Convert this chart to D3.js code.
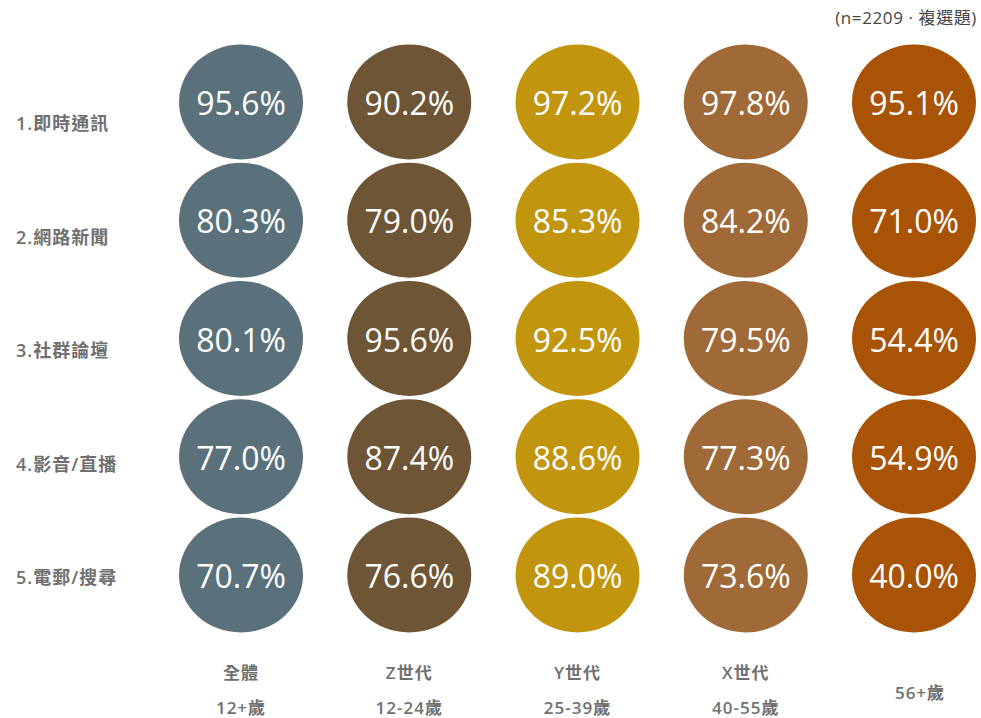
<!DOCTYPE html>
<html>
<head>
<meta charset="utf-8">
<script src="https://cdn.jsdelivr.net/npm/d3@7"></script>
<style>
  body { margin: 0; background: #fff; }
  text { font-family: "Open Sans", "Noto Sans CJK TC", sans-serif; }
</style>
</head>
<body>
<div id="viz"></div>
<script>
// data
var rowLabels = ["1.即時通訊", "2.網路新聞", "3.社群論壇", "4.影音/直播", "5.電郵/搜尋"];
var groupNames = ["全體", "Z世代", "Y世代", "X世代", ""];
var groupAges = ["12+歲", "12-24歲", "25-39歲", "40-55歲", "56+歲"];
var groupColors = ["#5a717b", "#6d5535", "#c2950f", "#a06a38", "#a85306"];
var valAll = [95.6, 80.3, 80.1, 77.0, 70.7];
var valZ = [90.2, 79.0, 95.6, 87.4, 76.6];
var valY = [97.2, 85.3, 92.5, 88.6, 89.0];
var valX = [97.8, 84.2, 79.5, 77.3, 73.6];
var val56 = [95.1, 71.0, 54.4, 54.9, 40.0];
var noteText = "(n=2209 · 複選題)";

var series = [valAll, valZ, valY, valX, val56];

var W = 981, H = 718;
var svg = d3.select("#viz").append("svg")
    .attr("width", W)
    .attr("height", H);

var x = d3.scalePoint().domain(d3.range(groupAges.length)).range([241, 914]);
var y = d3.scalePoint().domain(d3.range(rowLabels.length)).range([102, 575]);
var yLab = d3.scalePoint().domain(d3.range(rowLabels.length)).range([124, 578]);

var cells = [];
series.forEach(function(vals, c) {
  vals.forEach(function(v, r) {
    cells.push({ c: c, r: r, v: v });
  });
});

var g = svg.append("g");
g.selectAll("ellipse")
  .data(cells)
  .enter().append("ellipse")
    .attr("cx", function(d) { return x(d.c); })
    .attr("cy", function(d) { return y(d.r); })
    .attr("rx", 62)
    .attr("ry", 57.5)
    .style("fill", function(d) { return groupColors[d.c]; });

g.selectAll("text.val")
  .data(cells)
  .enter().append("text")
    .attr("class", "val")
    .attr("x", function(d) { return x(d.c); })
    .attr("y", function(d) { return y(d.r) + 13; })
    .attr("text-anchor", "middle")
    .attr("font-size", "32px")
    .attr("fill", "#fff")
    .text(function(d) { return d.v.toFixed(1) + "%"; });

// row labels
svg.selectAll("text.row")
  .data(rowLabels)
  .enter().append("text")
    .attr("class", "row")
    .attr("x", 16)
    .attr("y", function(d, i) { return yLab(i) + 6; })
    .attr("font-size", "18px")
    .attr("font-weight", "600")
    .attr("letter-spacing", "1px")
    .attr("fill", "#707070")
    .text(function(d) { return d; });

// column labels
var cols = svg.append("g")
    .attr("font-size", "17px")
    .attr("font-weight", "600")
    .attr("letter-spacing", "1px")
    .attr("fill", "#707070")
    .attr("text-anchor", "middle");
groupAges.forEach(function(age, i) {
  if (groupNames[i]) {
    cols.append("text")
      .attr("x", x(i))
      .attr("y", 679)
      .text(groupNames[i]);
    cols.append("text")
      .attr("x", x(i))
      .attr("y", 714)
      .text(age);
  } else {
    cols.append("text")
      .attr("x", x(i) + 6)
      .attr("y", 699)
      .text(age);
  }
});

svg.append("text")
  .attr("x", 977)
  .attr("y", 24)
  .attr("text-anchor", "end")
  .attr("font-size", "17px")
  .attr("letter-spacing", "0.6px")
  .attr("fill", "#444")
  .text(noteText);
</script>
</body>
</html>
